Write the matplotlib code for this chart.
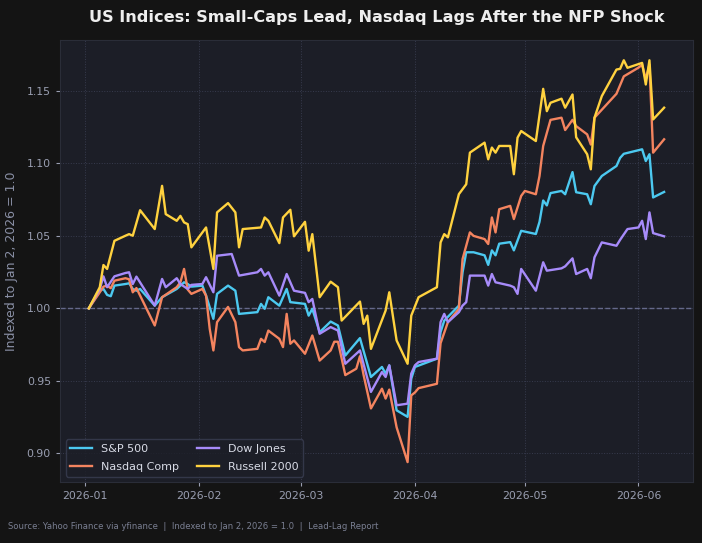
import numpy as np
import matplotlib
matplotlib.use("Agg")
import matplotlib.pyplot as plt
import matplotlib.dates as mdates

# values (index, Jan 2 2026 = 1.0)
spx_dates = ["2026-01-02", "2026-01-05", "2026-01-06", "2026-01-07", "2026-01-08", "2026-01-09",
             "2026-01-12", "2026-01-13", "2026-01-14", "2026-01-15", "2026-01-16", "2026-01-20",
             "2026-01-22", "2026-01-26", "2026-01-28", "2026-01-29", "2026-01-30", "2026-02-02",
             "2026-02-03", "2026-02-05", "2026-02-06", "2026-02-09", "2026-02-11", "2026-02-12",
             "2026-02-17", "2026-02-18", "2026-02-19", "2026-02-20", "2026-02-23", "2026-02-25",
             "2026-02-26", "2026-03-02", "2026-03-03", "2026-03-04", "2026-03-06", "2026-03-09",
             "2026-03-11", "2026-03-13", "2026-03-17", "2026-03-20", "2026-03-23", "2026-03-24",
             "2026-03-25", "2026-03-27", "2026-03-30", "2026-03-31", "2026-04-01", "2026-04-07",
             "2026-04-08", "2026-04-09", "2026-04-13", "2026-04-14", "2026-04-15", "2026-04-17",
             "2026-04-20", "2026-04-21", "2026-04-22", "2026-04-23", "2026-04-24", "2026-04-27",
             "2026-04-28", "2026-04-30", "2026-05-04", "2026-05-05", "2026-05-06", "2026-05-07",
             "2026-05-08", "2026-05-11", "2026-05-12", "2026-05-14", "2026-05-15", "2026-05-18",
             "2026-05-19", "2026-05-20", "2026-05-22", "2026-05-26", "2026-05-27", "2026-05-28",
             "2026-06-02", "2026-06-03", "2026-06-04", "2026-06-05", "2026-06-08"]
spx_vals = [1.000, 1.0122, 1.0134, 1.0093, 1.0084, 1.0157,
            1.0168, 1.0173, 1.0134, 1.0122, 1.0134, 1.0019,
            1.0077, 1.0134, 1.0180, 1.0168, 1.0150, 1.0157,
            1.0088, 0.9928, 1.0100, 1.0157, 1.0122, 0.9962,
            0.9974, 1.0031, 0.9997, 1.0077, 1.0019, 1.0134,
            1.0043, 1.0031, 0.9950, 0.9997, 0.9836, 0.9909,
            0.9882, 0.9675, 0.9795, 0.9527, 0.9596, 0.9550,
            0.9607, 0.9297, 0.9252, 0.9515, 0.9596, 0.9653,
            0.9836, 0.9916, 1.0019, 1.0249, 1.0387, 1.0387,
            1.0366, 1.0300, 1.0400, 1.0366, 1.0446, 1.0457,
            1.0400, 1.0535, 1.0513, 1.0597, 1.0744, 1.0710,
            1.0795, 1.0810, 1.0787, 1.0940, 1.0801, 1.0787,
            1.0718, 1.0844, 1.0913, 1.0982, 1.1038, 1.1066,
            1.1097, 1.1016, 1.1063, 1.0765, 1.0803]

ndx_dates = ["2026-01-02", "2026-01-05", "2026-01-06", "2026-01-07", "2026-01-08", "2026-01-09",
             "2026-01-12", "2026-01-13", "2026-01-14", "2026-01-15", "2026-01-20", "2026-01-22",
             "2026-01-26", "2026-01-27", "2026-01-28", "2026-01-29", "2026-01-30", "2026-02-02",
             "2026-02-03", "2026-02-04", "2026-02-05", "2026-02-06", "2026-02-09", "2026-02-11",
             "2026-02-12", "2026-02-13", "2026-02-17", "2026-02-18", "2026-02-19", "2026-02-20",
             "2026-02-23", "2026-02-24", "2026-02-25", "2026-02-26", "2026-02-27", "2026-03-02",
             "2026-03-04", "2026-03-06", "2026-03-09", "2026-03-10", "2026-03-11", "2026-03-13",
             "2026-03-16", "2026-03-17", "2026-03-18", "2026-03-20", "2026-03-23", "2026-03-24",
             "2026-03-25", "2026-03-27", "2026-03-30", "2026-03-31", "2026-04-01", "2026-04-02",
             "2026-04-07", "2026-04-08", "2026-04-10", "2026-04-13", "2026-04-14", "2026-04-16",
             "2026-04-17", "2026-04-20", "2026-04-21", "2026-04-22", "2026-04-23", "2026-04-24",
             "2026-04-27", "2026-04-28", "2026-04-30", "2026-05-01", "2026-05-04", "2026-05-05",
             "2026-05-06", "2026-05-08", "2026-05-11", "2026-05-12", "2026-05-14", "2026-05-15",
             "2026-05-18", "2026-05-19", "2026-05-20", "2026-05-26", "2026-05-28", "2026-06-01",
             "2026-06-02", "2026-06-03", "2026-06-04", "2026-06-05", "2026-06-08"]
ndx_vals = [1.000, 1.0111, 1.0150, 1.0157, 1.0139, 1.0191,
            1.0208, 1.0201, 1.0111, 1.0140, 0.9882, 1.0077,
            1.0146, 1.0180, 1.0272, 1.0130, 1.0100, 1.0134,
            1.0088, 0.9859, 0.9710, 0.9905, 1.0010, 0.9905,
            0.9733, 0.9710, 0.9721, 0.9790, 0.9768, 0.9847,
            0.9790, 0.9733, 0.9962, 0.9756, 0.9779, 0.9687,
            0.9813, 0.9640, 0.9710, 0.9770, 0.9770, 0.9540,
            0.9584, 0.9670, 0.9540, 0.9310, 0.9446, 0.9378,
            0.9440, 0.9180, 0.8940, 0.9400, 0.9420, 0.9450,
            0.9480, 0.9760, 0.9905, 0.9997, 1.0340, 1.0524,
            1.0500, 1.0478, 1.0444, 1.0627, 1.0524, 1.0684,
            1.0707, 1.0616, 1.0776, 1.0810, 1.0787, 1.0913,
            1.1120, 1.1300, 1.1315, 1.1230, 1.1300, 1.1257,
            1.1200, 1.1130, 1.1315, 1.1480, 1.1600, 1.1660,
            1.1680, 1.1580, 1.1680, 1.1074, 1.1166]

dji_dates = ["2026-01-02", "2026-01-05", "2026-01-06", "2026-01-07", "2026-01-09", "2026-01-12",
             "2026-01-13", "2026-01-14", "2026-01-15", "2026-01-20", "2026-01-22", "2026-01-23",
             "2026-01-26", "2026-01-27", "2026-01-29", "2026-01-30", "2026-02-02", "2026-02-03",
             "2026-02-05", "2026-02-06", "2026-02-10", "2026-02-12", "2026-02-17", "2026-02-18",
             "2026-02-19", "2026-02-20", "2026-02-23", "2026-02-25", "2026-02-27", "2026-03-02",
             "2026-03-03", "2026-03-04", "2026-03-06", "2026-03-09", "2026-03-11", "2026-03-13",
             "2026-03-17", "2026-03-20", "2026-03-23", "2026-03-24", "2026-03-25", "2026-03-27",
             "2026-03-30", "2026-03-31", "2026-04-01", "2026-04-02", "2026-04-07", "2026-04-08",
             "2026-04-09", "2026-04-10", "2026-04-13", "2026-04-14", "2026-04-15", "2026-04-16",
             "2026-04-20", "2026-04-21", "2026-04-22", "2026-04-23", "2026-04-27", "2026-04-28",
             "2026-04-29", "2026-04-30", "2026-05-04", "2026-05-06", "2026-05-07", "2026-05-11",
             "2026-05-12", "2026-05-14", "2026-05-15", "2026-05-18", "2026-05-19", "2026-05-20",
             "2026-05-22", "2026-05-26", "2026-05-27", "2026-05-29", "2026-06-01", "2026-06-02",
             "2026-06-03", "2026-06-04", "2026-06-05", "2026-06-08"]
dji_vals = [1.000, 1.0134, 1.0221, 1.0146, 1.0221, 1.0244,
            1.0249, 1.0168, 1.0219, 1.0019, 1.0203, 1.0146,
            1.0208, 1.0168, 1.0134, 1.0162, 1.0168, 1.0215,
            1.0111, 1.0363, 1.0375, 1.0226, 1.0249, 1.0272,
            1.0226, 1.0249, 1.0088, 1.0237, 1.0122, 1.0107,
            1.0043, 1.0065, 0.9825, 0.9871, 0.9847, 0.9618,
            0.9710, 0.9424, 0.9561, 0.9527, 0.9607, 0.9332,
            0.9343, 0.9550, 0.9607, 0.9630, 0.9653, 0.9905,
            0.9962, 0.9905, 0.9974, 1.0019, 1.0043, 1.0226,
            1.0226, 1.0157, 1.0237, 1.0180, 1.0157, 1.0146,
            1.0100, 1.0272, 1.0122, 1.0318, 1.0260, 1.0276,
            1.0290, 1.0345, 1.0237, 1.0272, 1.0208, 1.0352,
            1.0455, 1.0432, 1.0473, 1.0547, 1.0558, 1.0604,
            1.0478, 1.0662, 1.0519, 1.0497]

rut_dates = ["2026-01-02", "2026-01-05", "2026-01-06", "2026-01-07", "2026-01-09", "2026-01-12",
             "2026-01-13", "2026-01-14", "2026-01-16", "2026-01-20", "2026-01-22", "2026-01-23",
             "2026-01-26", "2026-01-27", "2026-01-28", "2026-01-29", "2026-01-30", "2026-02-03",
             "2026-02-05", "2026-02-06", "2026-02-09", "2026-02-11", "2026-02-12", "2026-02-13",
             "2026-02-18", "2026-02-19", "2026-02-20", "2026-02-23", "2026-02-24", "2026-02-26",
             "2026-02-27", "2026-03-02", "2026-03-03", "2026-03-04", "2026-03-06", "2026-03-09",
             "2026-03-11", "2026-03-12", "2026-03-17", "2026-03-18", "2026-03-19", "2026-03-20",
             "2026-03-24", "2026-03-25", "2026-03-27", "2026-03-30", "2026-03-31", "2026-04-02",
             "2026-04-07", "2026-04-08", "2026-04-09", "2026-04-10", "2026-04-13", "2026-04-14",
             "2026-04-15", "2026-04-16", "2026-04-20", "2026-04-21", "2026-04-22", "2026-04-23",
             "2026-04-24", "2026-04-27", "2026-04-28", "2026-04-29", "2026-04-30", "2026-05-04",
             "2026-05-06", "2026-05-07", "2026-05-08", "2026-05-11", "2026-05-12", "2026-05-14",
             "2026-05-15", "2026-05-18", "2026-05-19", "2026-05-20", "2026-05-22", "2026-05-26",
             "2026-05-27", "2026-05-28", "2026-05-29", "2026-06-02", "2026-06-03", "2026-06-04",
             "2026-06-05", "2026-06-08"]
rut_vals = [1.000, 1.0146, 1.0299, 1.0272, 1.0466, 1.0501,
            1.0512, 1.0501, 1.0677, 1.0547, 1.0845, 1.0650,
            1.0604, 1.0638, 1.0593, 1.0581, 1.0421, 1.0558,
            1.0272, 1.0662, 1.0726, 1.0662, 1.0421, 1.0547,
            1.0558, 1.0627, 1.0604, 1.0450, 1.0627, 1.0680,
            1.0497, 1.0597, 1.0398, 1.0512, 1.0077, 1.0184,
            1.0146, 0.9916, 1.0047, 0.9893, 0.9950, 0.9721,
            0.9985, 1.0111, 0.9779, 0.9618, 0.9950, 1.0077,
            1.0146, 1.0455, 1.0512, 1.0490, 1.0788, 1.0822,
            1.0856, 1.1074, 1.1143, 1.1028, 1.1109, 1.1074,
            1.1120, 1.1120, 1.0925, 1.1177, 1.1223, 1.1154,
            1.1514, 1.1360, 1.1418, 1.1446, 1.1384, 1.1475,
            1.1180, 1.1063, 1.0959, 1.1315, 1.1464, 1.1647,
            1.1652, 1.1711, 1.1659, 1.1693, 1.1544, 1.1711,
            1.1303, 1.1384]

series = [
    ("S&P 500", spx_dates, spx_vals, "#4CC9F0"),
    ("Nasdaq Comp", ndx_dates, ndx_vals, "#F4845F"),
    ("Dow Jones", dji_dates, dji_vals, "#A78BFA"),
    ("Russell 2000", rut_dates, rut_vals, "#FFD23F"),
]

fig = plt.figure(figsize=(7.02, 5.43), dpi=100, facecolor="#141414")
ax = fig.add_axes([0.0855, 0.112, 0.9015, 0.814])
ax.set_facecolor("#1c1e27")

for name, dates, vals, color in series:
    ax.plot(np.array(dates, dtype="datetime64[D]"), vals, color=color, lw=1.7, label=name)

ax.axhline(1.0, color="#70759a", lw=1.0, ls="--", alpha=0.85, zorder=1)
ax.grid(True, color="#3a3e52", lw=0.7, ls=":", alpha=0.9)
ax.set_axisbelow(True)

ax.xaxis.set_major_locator(mdates.MonthLocator())
ax.xaxis.set_major_formatter(mdates.DateFormatter("%Y-%m"))
ax.set_yticks([0.90, 0.95, 1.00, 1.05, 1.10, 1.15])
ax.yaxis.set_major_formatter(plt.FormatStrFormatter("%.2f"))
ax.tick_params(colors="#9a9fb2", labelsize=7.8, length=3)
for s in ax.spines.values():
    s.set_color("#2a2d38")

ax.set_ylabel("Indexed to Jan 2, 2026 = 1.0", color="#8a90a6", fontsize=9, labelpad=6)
ax.set_title("US Indices: Small-Caps Lead, Nasdaq Lags After the NFP Shock",
             color="#eeeeee", fontsize=11.6, fontweight="bold", pad=13)

leg = ax.legend(loc="lower left", ncol=2, fontsize=8, frameon=True,
                facecolor="#1c1e27", edgecolor="#3a3e52", labelcolor="#d8dbe6",
                columnspacing=1.6, handlelength=2.0, labelspacing=0.75)

fig.text(0.012, 0.026, "Source: Yahoo Finance via yfinance  |  Indexed to Jan 2, 2026 = 1.0  |  Lead-Lag Report",
         color="#7a7f92", fontsize=6.1)

fig.savefig("out.png", dpi=100, facecolor=fig.get_facecolor())
